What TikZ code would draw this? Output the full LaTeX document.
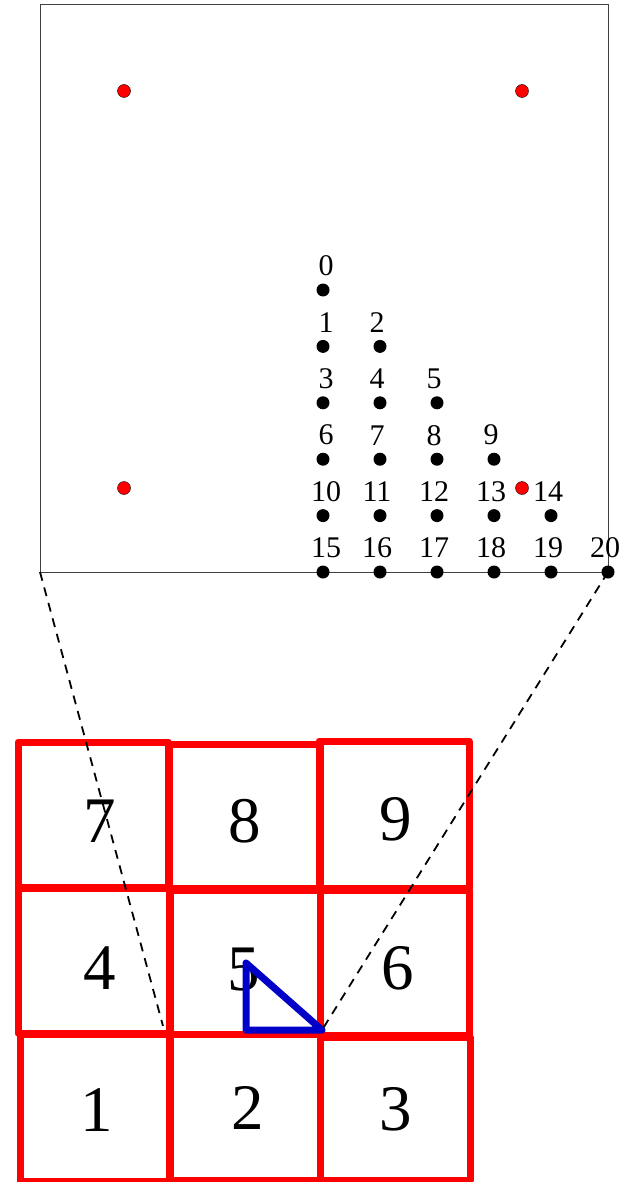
\documentclass[tikz,border=0pt]{standalone}
\usepackage{fontspec}
\setmainfont{Liberation Serif}
\definecolor{triblue}{RGB}{0,0,200}
\begin{document}
\begin{tikzpicture}[x=1pt,y=-1pt,
  bdot/.style={circle,fill=black,inner sep=0pt,minimum size=13pt},
  rdot/.style={circle,fill=red,draw=black,line width=0.4pt,inner sep=0pt,minimum size=13pt},
  lbl/.style={inner sep=0pt,font=\fontsize{30}{36}\selectfont},
  big/.style={inner sep=0pt,font=\fontsize{65}{72}\selectfont},
  cell/.style={draw=red,line width=7pt,line join=round},
  tri/.style={draw=triblue,line width=7pt,line join=round},
  frame/.style={draw=black!75,line width=1pt},
  zoomline/.style={dash pattern=on 9pt off 7pt,line width=1.8pt}
]
\useasboundingbox (0,0) rectangle (627,1182);
% top frame
\coordinate (fnw) at (40,5);
\coordinate (fse) at (608,572);
\coordinate (fsw) at (40,572);
\draw[frame] (fnw) rectangle (fse);
% red dots
\node[rdot] (r1) at (124,91) {};
\node[rdot] (r2) at (522,91) {};
\node[rdot] (r3) at (124,488) {};
\node[rdot] (r4) at (522,488) {};
% triangular lattice of black dots with labels
\foreach \r in {0,...,5}{
  \foreach \c in {0,...,\r}{
    \pgfmathtruncatemacro\n{\r*(\r+1)/2+\c}
    \pgfmathsetmacro\px{323+57*\c}
    \pgfmathsetmacro\py{290+56.4*\r}
    \pgfmathsetmacro\dx{\c==0 ? 3 : -3}
    \node[bdot] (d\n) at (\px,\py) {};
    \node[lbl] (l\n) at (\px+\dx,\py-24) {\n};
  }
}
% 3x3 grid of red cells
\draw[cell] (18,742) rectangle (168,887);
\draw[cell] (169,744) rectangle (320,888);
\draw[cell] (319,741) rectangle (469,888);
\draw[cell] (18,888) rectangle (169,1033);
\draw[cell] (170,890) rectangle (320,1034);
\draw[cell] (320,890) rectangle (469,1035);
\draw[cell] (20,1034) rectangle (169,1181);
\draw[cell] (170,1034) rectangle (320,1180);
\draw[cell] (320,1037) rectangle (470,1180);
\node[big] (t7) at (100,821) {7};
\node[big] (t8) at (245,821) {8};
\node[big] (t9) at (396,819) {9};
\node[big] (t4) at (100,968) {4};
\node[big] (t5) at (244,970) {5};
\node[big] (t6) at (398,968) {6};
\node[big] (t1) at (97,1110) {1};
\node[big] (t2) at (248,1108) {2};
\node[big] (t3) at (396,1109) {3};
% blue triangle
\coordinate (ta) at (246,963);
\coordinate (tb) at (246,1030);
\coordinate (tc) at (322,1030);
\draw[tri] (ta) -- (tb) -- (tc) -- cycle;
% dashed zoom lines
\coordinate (lz) at (163,1026);
\draw[zoomline] (fsw) -- (lz);
\draw[zoomline] (d20.center) -- (tc);
\end{tikzpicture}
\end{document}
